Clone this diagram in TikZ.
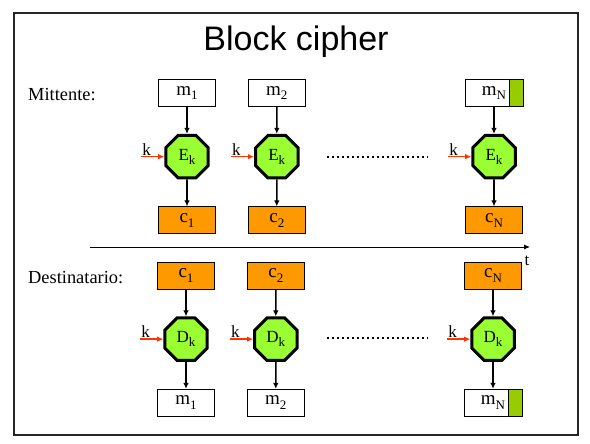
\documentclass[tikz,border=0pt]{standalone}
\usepackage{fontspec}
\setmainfont{Liberation Serif}
\newfontfamily\titlefont{Liberation Sans}
\usetikzlibrary{positioning,arrows.meta,shapes.geometric}

\definecolor{boxorange}{HTML}{FF9900}
\definecolor{octgreen}{HTML}{99FF33}
\definecolor{stripgreen}{HTML}{99CC00}
\definecolor{keyred}{HTML}{FF3300}

\newcommand\lowsub[1]{\raisebox{-0.55ex}{\fontsize{13}{13}\selectfont #1}}

\tikzset{
  msgbox/.style={draw, line width=0.8pt, fill=white, minimum width=57pt, minimum height=27pt,
    inner sep=0pt, font=\fontsize{19}{19}\selectfont},
  ctbox/.style={msgbox, fill=boxorange},
  cipher/.style={regular polygon, regular polygon sides=8, draw, line width=3pt, fill=octgreen,
    minimum size=46pt, inner sep=0pt, font=\fontsize{17}{17}\selectfont},
  flow/.style={-{Latex[length=6pt,width=5.5pt]}, line width=1.6pt},
  keyflow/.style={flow, draw=keyred},
  keylbl/.style={inner sep=1pt, font=\fontsize{17}{17}\selectfont},
  rolelbl/.style={anchor=west, inner sep=0pt, font=\fontsize{18.4}{20}\selectfont}
}

\begin{document}
\begin{tikzpicture}[x=1pt, y=-1pt, node distance=27pt and 32pt]
  \useasboundingbox (0,0) rectangle (590,444);
  \draw[line width=1.6pt, draw=black!85] (14,13) rectangle (578,435);

  \node[font=\titlefont\fontsize{34}{34}\selectfont] (title) at (296,42) {Block cipher};
  \node[rolelbl] (send) at (28,95) {Mittente:};
  \node[rolelbl] (recv) at (28,278) {Destinatario:};

  % sender
  \node[msgbox] (m1) at (187,93) {m\lowsub{1}};
  \node[msgbox, right=of m1] (m2) {m\lowsub{2}};
  \node[msgbox] (mN) at (494,93) {m\lowsub{N}};
  \draw[line width=0.8pt, fill=stripgreen] ([xshift=-14pt]mN.north east) rectangle (mN.south east);

  \node[cipher, below=of m1] (E1) {E\lowsub{k}};
  \node[cipher, below=of m2] (E2) {E\lowsub{k}};
  \node[cipher, below=of mN] (EN) {E\lowsub{k}};

  \node[ctbox, below=of E1] (c1) {c\lowsub{1}};
  \node[ctbox, below=of E2] (c2) {c\lowsub{2}};
  \node[ctbox, below=of EN] (cN) {c\lowsub{N}};

  \draw[flow] (m1) -- (E1);  \draw[flow] (E1) -- (c1);
  \draw[flow] (m2) -- (E2);  \draw[flow] (E2) -- (c2);
  \draw[flow] (mN) -- (EN);  \draw[flow] (EN) -- (cN);

  \coordinate (kE1) at ([xshift=-23pt]E1.west);
  \coordinate (kE2) at ([xshift=-23pt]E2.west);
  \coordinate (kEN) at ([xshift=-23pt]EN.west);
  \node[keylbl, above right=0pt of kE1] (k1) {k};
  \node[keylbl, above right=0pt of kE2] (k2) {k};
  \node[keylbl, above right=0pt of kEN] (kN) {k};
  \draw[keyflow] (kE1) -- (E1.west);
  \draw[keyflow] (kE2) -- (E2.west);
  \draw[keyflow] (kEN) -- (EN.west);

  \coordinate (dotsE0) at (327,157);
  \coordinate (dotsE1) at (428,157);
  \draw[line width=2pt, dash pattern=on 2pt off 3pt] (dotsE0) -- (dotsE1);

  % time axis
  \coordinate (t0) at (90,247);
  \coordinate (t1) at (530,247);
  \draw[-{Latex[length=6pt,width=5pt]}, line width=0.9pt] (t0) -- (t1);
  \node[keylbl] (tlab) at (527,261) {t};

  % receiver
  \node[ctbox] (rc1) at (186,275.5) {c\lowsub{1}};
  \node[ctbox, right=of rc1] (rc2) {c\lowsub{2}};
  \node[ctbox] (rcN) at (493,275.5) {c\lowsub{N}};

  \node[cipher, below=of rc1] (D1) {D\lowsub{k}};
  \node[cipher, below=of rc2] (D2) {D\lowsub{k}};
  \node[cipher, below=of rcN] (DN) {D\lowsub{k}};

  \node[msgbox, below=of D1] (rm1) {m\lowsub{1}};
  \node[msgbox, below=of D2] (rm2) {m\lowsub{2}};
  \node[msgbox, below=of DN] (rmN) {m\lowsub{N}};
  \draw[line width=0.8pt, fill=stripgreen] ([xshift=-14pt]rmN.north east) rectangle (rmN.south east);

  \draw[flow] (rc1) -- (D1);  \draw[flow] (D1) -- (rm1);
  \draw[flow] (rc2) -- (D2);  \draw[flow] (D2) -- (rm2);
  \draw[flow] (rcN) -- (DN);  \draw[flow] (DN) -- (rmN);

  \coordinate (kD1) at ([xshift=-23pt]D1.west);
  \coordinate (kD2) at ([xshift=-23pt]D2.west);
  \coordinate (kDN) at ([xshift=-23pt]DN.west);
  \node[keylbl, above right=0pt of kD1] (k4) {k};
  \node[keylbl, above right=0pt of kD2] (k5) {k};
  \node[keylbl, above right=0pt of kDN] (k6) {k};
  \draw[keyflow] (kD1) -- (D1.west);
  \draw[keyflow] (kD2) -- (D2.west);
  \draw[keyflow] (kDN) -- (DN.west);

  \coordinate (dotsD0) at (327,338);
  \coordinate (dotsD1) at (428,338);
  \draw[line width=2pt, dash pattern=on 2pt off 3pt] (dotsD0) -- (dotsD1);
\end{tikzpicture}
\end{document}
